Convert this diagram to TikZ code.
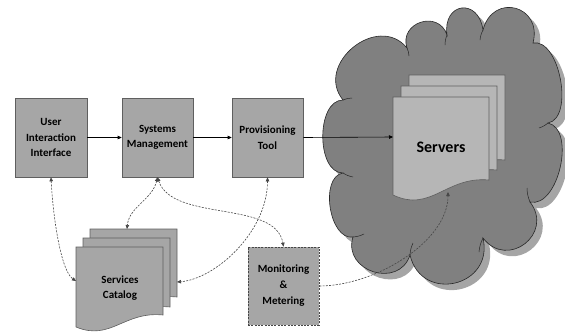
\documentclass[tikz,border=0pt]{standalone}
\usepackage{fontspec}
\setmainfont{Carlito}
\usetikzlibrary{arrows.meta,calc}
\definecolor{boxfill}{RGB}{166,166,166}
\definecolor{boxline}{RGB}{95,95,95}
\definecolor{cloudfill}{RGB}{128,128,128}
\definecolor{cloudline}{RGB}{40,40,40}
\definecolor{cloudshadow}{RGB}{165,165,165}
\definecolor{docfill}{RGB}{182,182,182}
\definecolor{dashcol}{RGB}{70,70,70}
\newcommand\cseg[3]{.. controls ($#1!#3pt!90:#2$) and ($#2!#3pt!-90:#1$) .. #2}
\newcommand\cloudpath{(343,100)
  \cseg{(343,100)}{(407,48)}{46}
  \cseg{(407,48)}{(447,35)}{27}
  \cseg{(447,35)}{(483,30)}{33}
  \cseg{(483,30)}{(533,43)}{39}
  \cseg{(533,43)}{(548,123)}{27}
  \cseg{(548,123)}{(530,202)}{29}
  \cseg{(530,202)}{(483,238)}{40}
  \cseg{(483,238)}{(410,255)}{50}
  \cseg{(410,255)}{(353,237)}{36}
  \cseg{(353,237)}{(343,173)}{24}
  \cseg{(343,173)}{(343,100)}{27} -- cycle}
\newcommand\docpath[5]{(#1,#2) -- (#1+#3,#2) -- (#1+#3,#2+#4) .. controls (#1+0.55*#3,#2+#4-4) and (#1+0.4*#3,#2+2.2*#5-1.2*#4) .. (#1,#2+#5) -- cycle}
\begin{document}
\begin{tikzpicture}[x=1pt,y=-1pt,
  procbox/.style={draw=boxline, fill=boxfill, line width=0.6pt, minimum width=71pt,
    minimum height=79pt, inner sep=0pt, align=center,
    font=\fontsize{11}{15.5}\selectfont\bfseries},
  docshape/.style={draw=boxline, line width=0.6pt},
  cusp/.style={draw=cloudline, line width=0.5pt},
  flow/.style={-{Triangle[length=4pt,width=3.5pt]}, line width=0.6pt, black},
  dflow/.style={{Triangle[length=4pt,width=3.5pt]}-{Triangle[length=4pt,width=3.5pt]},
    dashcol, line width=0.6pt, dash pattern=on 2pt off 1.3pt},
  dflowone/.style={-{Triangle[length=4pt,width=3.5pt]},
    dashcol, line width=0.6pt, dash pattern=on 2pt off 1.3pt},
  lbl/.style={align=center, inner sep=0pt, font=\fontsize{11}{15.5}\selectfont\bfseries}
]
\useasboundingbox (0,0) rectangle (565,335);
% cloud
\begin{scope}[shift={(6,6)}]
  \fill[cloudshadow] \cloudpath;
\end{scope}
\filldraw[fill=cloudfill, draw=cloudline, line width=0.6pt] \cloudpath;
% inner cusp strokes of the cloud
\draw[cusp] (407,48) to[bend left=10] (409,56);
\draw[cusp] (447,35) to[bend right=10] (445,45);
\draw[cusp] (483,30) to[bend right=10] (480,40);
\draw[cusp] (548,123) to[bend left=10] (539,128);
\draw[cusp] (530,202) to[bend left=10] (527,188);
\draw[cusp] (483,238) to[bend right=10] (479,252);
\draw[cusp] (410,255) to[bend left=10] (413,243);
\draw[cusp] (353,237) to[bend right=10] (364,234);
\draw[cusp] (343,173) to[bend right=10] (353,177);
\draw[cusp] (343,100) to[bend left=10] (352,98);
% servers stack
\filldraw[docshape, fill=docfill] \docpath{409}{75}{96}{85}{100};
\filldraw[docshape, fill=docfill] \docpath{401}{86}{96}{84}{99};
\filldraw[docshape, fill=docfill] \docpath{393}{97}{96}{83}{98};
\node[lbl, font=\fontsize{16}{18}\selectfont\bfseries] (servers) at (441,147) {Servers};
\coordinate (srvL) at (393,137);
\coordinate (srvB) at (448,192);
% services catalog stack
\filldraw[docshape, fill=boxfill] \docpath{90}{229}{87}{68}{80};
\filldraw[docshape, fill=boxfill] \docpath{83}{238}{87}{69}{81};
\filldraw[docshape, fill=boxfill] \docpath{76}{247}{87}{68}{80};
\node[lbl] (catalog) at (120,288) {Services\\Catalog};
\coordinate (catL) at (76,281);
\coordinate (catT) at (127,229);
\coordinate (catR) at (177,282);
% boxes
\node[procbox, minimum width=72pt] (ui) at (51,137.5) {User\\Interaction\\Interface};
\node[procbox] (sm) at (157.5,137.5) {Systems\\Management};
\node[procbox] (pt) at (267.5,137.5) {Provisioning\\Tool};
\node[procbox, minimum height=78pt, draw=dashcol, dash pattern=on 2pt off 1.3pt,
  font=\fontsize{11}{16}\selectfont\bfseries] (mon) at (283.5,286) {Monitoring\\\&\\Metering};
% solid connectors
\draw[flow] (ui) -- (sm);
\draw[flow] (sm) -- (pt);
\draw[flow] (pt.east) -- (srvL);
% dashed connectors
\draw[dflow] (ui.south) .. controls +(2,40) and +(-15,-10) .. (catL);
\draw[dflow] (sm.south) .. controls +(-5,22) and +(2,-22) .. (catT);
\draw[dflow] (sm.south) .. controls +(15,45) and +(-8,-47) .. (mon.north);
\draw[dflow] (pt.south) .. controls +(0,55) and +(38,-3) .. (catR);
\draw[dflowone] (mon.east) .. controls +(55,0) and +(0,50) .. (srvB);
\end{tikzpicture}
\end{document}
